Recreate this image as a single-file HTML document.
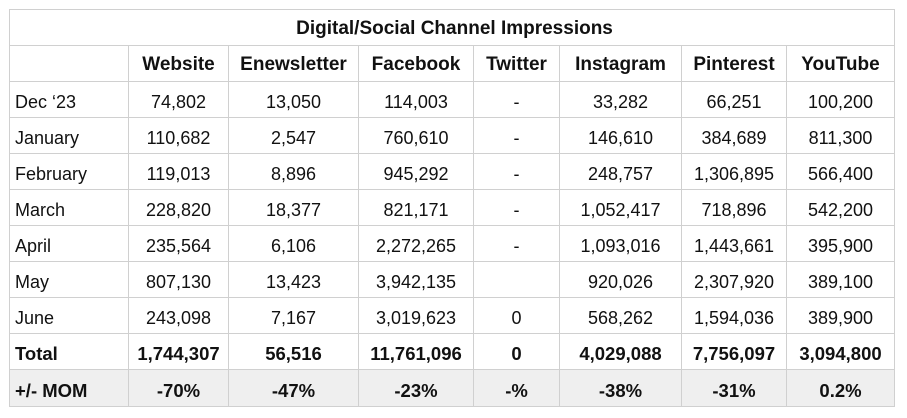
<!DOCTYPE html>
<html><head><style>
body{margin:0;background:#fff;width:907px;height:418px;overflow:hidden;font-family:"Liberation Sans",Arial,sans-serif;color:#111}
table{position:absolute;left:9px;top:9px;border-collapse:collapse;table-layout:fixed}
td{border:1px solid #d0d0d0;padding:5px 0 0 0;box-sizing:border-box;text-align:center;font-size:18px;height:36px;white-space:nowrap}
td:first-child{text-align:left;padding-left:5px}
.t td{font-weight:bold;font-size:19px;padding-top:2px}
.h td{font-weight:bold;font-size:19px;padding-top:3px}
.b td{font-weight:bold;font-size:18.5px}
.m td{background:#efefef;font-weight:bold;height:37px;font-size:18.5px}
</style></head><body>
<table>
<colgroup><col style="width:119px"><col style="width:100px"><col style="width:130px"><col style="width:115px"><col style="width:86px"><col style="width:122px"><col style="width:105px"><col style="width:108px"></colgroup>
<tr class="t"><td colspan="8" style="text-align:center">Digital/Social Channel Impressions</td></tr>
<tr class="h"><td></td><td>Website</td><td>Enewsletter</td><td>Facebook</td><td>Twitter</td><td>Instagram</td><td>Pinterest</td><td>YouTube</td></tr>
<tr><td>Dec ‘23</td><td>74,802</td><td>13,050</td><td>114,003</td><td>-</td><td>33,282</td><td>66,251</td><td>100,200</td></tr>
<tr><td>January</td><td>110,682</td><td>2,547</td><td>760,610</td><td>-</td><td>146,610</td><td>384,689</td><td>811,300</td></tr>
<tr><td>February</td><td>119,013</td><td>8,896</td><td>945,292</td><td>-</td><td>248,757</td><td>1,306,895</td><td>566,400</td></tr>
<tr><td>March</td><td>228,820</td><td>18,377</td><td>821,171</td><td>-</td><td>1,052,417</td><td>718,896</td><td>542,200</td></tr>
<tr><td>April</td><td>235,564</td><td>6,106</td><td>2,272,265</td><td>-</td><td>1,093,016</td><td>1,443,661</td><td>395,900</td></tr>
<tr><td>May</td><td>807,130</td><td>13,423</td><td>3,942,135</td><td></td><td>920,026</td><td>2,307,920</td><td>389,100</td></tr>
<tr><td>June</td><td>243,098</td><td>7,167</td><td>3,019,623</td><td>0</td><td>568,262</td><td>1,594,036</td><td>389,900</td></tr>
<tr class="b"><td>Total</td><td>1,744,307</td><td>56,516</td><td>11,761,096</td><td>0</td><td>4,029,088</td><td>7,756,097</td><td>3,094,800</td></tr>
<tr class="m"><td>+/- MOM</td><td>-70%</td><td>-47%</td><td>-23%</td><td>-%</td><td>-38%</td><td>-31%</td><td>0.2%</td></tr>
</table>
</body></html>
